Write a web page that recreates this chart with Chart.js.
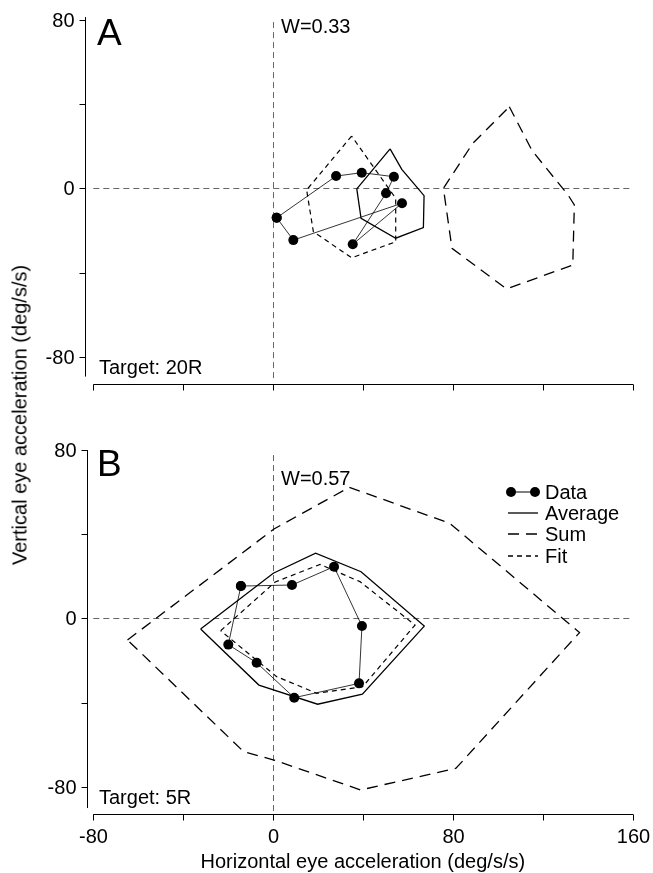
<!DOCTYPE html>
<html><head><meta charset="utf-8">
<script src="https://cdn.jsdelivr.net/npm/chart.js@4.4.0/dist/chart.umd.min.js"></script>
<style>
html,body{margin:0;padding:0;background:#fff;}
#wrap{position:relative;width:653px;height:873px;overflow:hidden;background:#fff;}
.pane{position:absolute;left:0;}
#ytitle{position:absolute;left:20px;top:415px;transform:translate(-50%,-50%) rotate(-90deg);font:20px 'Liberation Sans',Arial,sans-serif;white-space:nowrap;color:#000;}
</style></head>
<body><div id="wrap">
<div class="pane" style="top:0;width:653px;height:420px"><canvas id="cA" width="653" height="420"></canvas></div>
<div class="pane" style="top:420px;width:653px;height:453px"><canvas id="cB" width="653" height="453"></canvas></div>
<div id="ytitle">Vertical eye acceleration (deg/s/s)</div>
</div>
<script>
// ---- tick values / labels ----
const xTicks = [-80, -40, 0, 40, 80, 120, 160];
const xTickLabels = ['-80', '', '0', '', '80', '', '160'];
const yTicks = [80, 40, 0, -40, -80];
const yTickLabels = ['80', '', '0', '', '-80'];
const legendLabels = ['Data', 'Average', 'Sum', 'Fit'];

// ---- Panel A (Target: 20R, W=0.33) ----
const dataA_x = [1.5, 27.9, 39.3, 53.6, 50.1, 35.3, 57.2, 8.9];
const dataA_y = [-13.9, 5.9, 7.5, 5.6, -2.3, -26.5, -7.0, -24.5];
const avgA_x = [51.9, 57.1, 67.0, 66.7, 54.4, 39.0, 37.1];
const avgA_y = [18.8, 9.1, -3.4, -18.6, -23.6, -14.2, -0.2];
const sumA_x = [104.9, 115.0, 131.0, 133.8, 133.1, 103.7, 79.4, 75.6, 88.7];
const sumA_y = [38.8, 18.0, -3.1, -7.8, -36.3, -47.7, -28.4, 0.1, 21.5];
const fitA_x = [34.8, 14.8, 17.8, 34.8, 54.4, 54.4];
const fitA_y = [24.9, -0.7, -20.5, -32.9, -25.3, -4.7];

// ---- Panel B (Target: 5R, W=0.57) ----
const dataB_x = [-14.4, 8.3, 27.0, 39.4, 38.1, 9.3, -7.4, -20.0];
const dataB_y = [15.4, 15.9, 24.6, -3.6, -30.8, -37.6, -21.0, -12.4];
const avgB_x = [-32.3, 0.0, 18.8, 39.0, 67.1, 39.6, 19.7, -6.4];
const avgB_y = [-5.0, 21.5, 31.0, 22.2, -3.6, -35.9, -40.7, -31.6];
const sumB_x = [-64.8, 0.3, 33.8, 78.4, 136.1, 81.2, 38.8, 0.3, -13.2];
const sumB_y = [-10.2, 42.5, 62.3, 45.2, -6.7, -71.1, -81.4, -67.2, -63.2];
const fitB_x = [-23.4, 0.8, 20.8, 38.5, 63.0, 39.7, 19.3, 1.5];
const fitB_y = [-5.8, 17.3, 25.7, 17.5, -3.1, -32.4, -35.5, -27.6];

const FONT = "'Liberation Sans', Arial, Helvetica, sans-serif";
const SUM_DASH = [11, 7];
const FIT_DASH = [5, 4];

function pts(xs, ys, close) {
  const a = xs.map((v, i) => ({x: v, y: ys[i]}));
  if (close) a.push({x: xs[0], y: ys[0]});
  return a;
}

function makePlugin(cfg) {
  return {
    id: 'panelDeco',
    beforeDatasetsDraw(chart) {
      const ctx = chart.ctx, x = chart.scales.x, y = chart.scales.y;
      ctx.save();
      ctx.strokeStyle = '#666';
      ctx.lineWidth = 1;
      ctx.setLineDash([6, 4]);
      const y0 = Math.round(y.getPixelForValue(0)) + 0.5;
      ctx.beginPath();
      ctx.moveTo(x.getPixelForValue(-80), y0);
      ctx.lineTo(x.getPixelForValue(159), y0);
      ctx.stroke();
      const x0 = Math.round(x.getPixelForValue(0)) + 0.5;
      ctx.beginPath();
      ctx.moveTo(x0, y.getPixelForValue(cfg.vref[0]));
      ctx.lineTo(x0, y.getPixelForValue(cfg.vref[1]));
      ctx.stroke();
      ctx.restore();
    },
    afterDraw(chart) {
      const ctx = chart.ctx, x = chart.scales.x, y = chart.scales.y, ca = chart.chartArea;
      ctx.save();
      ctx.strokeStyle = '#000';
      ctx.fillStyle = '#000';
      ctx.lineWidth = 1;
      ctx.setLineDash([]);
      // y axis
      const ax = Math.round(ca.left) + 0.5;
      ctx.beginPath();
      ctx.moveTo(ax, y.getPixelForValue(cfg.yAxis[0]));
      ctx.lineTo(ax, y.getPixelForValue(cfg.yAxis[1]));
      ctx.stroke();
      ctx.font = '20px ' + FONT;
      ctx.textAlign = 'right';
      ctx.textBaseline = 'middle';
      yTicks.forEach((v, i) => {
        const py = Math.round(y.getPixelForValue(v)) + 0.5;
        ctx.beginPath(); ctx.moveTo(ax - 6, py); ctx.lineTo(ax, py); ctx.stroke();
        if (yTickLabels[i]) ctx.fillText(yTickLabels[i], ax - 11, py + 1);
      });
      // x axis
      const ay = Math.round(ca.bottom) + 0.5;
      ctx.beginPath();
      ctx.moveTo(x.getPixelForValue(-80), ay);
      ctx.lineTo(x.getPixelForValue(160), ay);
      ctx.stroke();
      ctx.textAlign = 'center';
      xTicks.forEach((v, i) => {
        const px = Math.round(x.getPixelForValue(v)) + 0.5;
        ctx.beginPath(); ctx.moveTo(px, ay); ctx.lineTo(px, ay + 6); ctx.stroke();
        if (cfg.xLabels && xTickLabels[i]) ctx.fillText(xTickLabels[i], px, ay + 23);
      });
      if (cfg.xTitle) {
        ctx.fillText(cfg.xTitle, (x.getPixelForValue(-80) + x.getPixelForValue(160)) / 2 - 0.5, ay + 48);
      }
      // texts
      ctx.textAlign = 'left';
      ctx.textBaseline = 'alphabetic';
      ctx.font = '37px ' + FONT;
      ctx.fillText(cfg.letter, 97, cfg.letterBase);
      ctx.font = '20px ' + FONT;
      ctx.fillText(cfg.wText, 281, cfg.wBase);
      ctx.fillText(cfg.target, 99, ay - 11);
      // legend
      if (cfg.legend) {
        const lx0 = 508, lx1 = 538, tx = 545;
        const rows = [72, 93, 114, 136];
        rows.forEach((ry, i) => {
          ctx.save();
          ctx.lineWidth = i === 0 ? 1 : 1.3;
          if (i === 2) ctx.setLineDash(SUM_DASH);
          if (i === 3) ctx.setLineDash(FIT_DASH);
          ctx.beginPath(); ctx.moveTo(lx0, ry); ctx.lineTo(lx1, ry); ctx.stroke();
          ctx.restore();
          if (i === 0) {
            [511, 535].forEach(cx => { ctx.beginPath(); ctx.arc(cx, ry, 5, 0, Math.PI * 2); ctx.fill(); });
          }
          ctx.textBaseline = 'middle';
          ctx.fillText(legendLabels[i], tx, ry + 1);
        });
      }
      ctx.restore();
    }
  };
}

function makePanel(id, cfg, series) {
  const canvas = document.getElementById(id);
  const W = canvas.width, H = canvas.height;
  const ds = [
    {label: 'Sum', data: pts(series.sx, series.sy, true), borderColor: '#000', borderWidth: 1.3, borderDash: SUM_DASH, pointRadius: 0, showLine: true, fill: false, tension: 0},
    {label: 'Fit', data: pts(series.fx, series.fy, true), borderColor: '#000', borderWidth: 1.2, borderDash: FIT_DASH, pointRadius: 0, showLine: true, fill: false, tension: 0},
    {label: 'Average', data: pts(series.ax, series.ay, true), borderColor: '#000', borderWidth: 1.3, pointRadius: 0, showLine: true, fill: false, tension: 0},
    {label: 'Data', data: pts(series.dx, series.dy, true), borderColor: '#000', borderWidth: 0.8, pointRadius: 5, pointBackgroundColor: '#000', pointBorderWidth: 0, showLine: true, fill: false, tension: 0}
  ];
  return new Chart(canvas, {
    type: 'scatter',
    data: {datasets: ds},
    options: {
      responsive: false,
      animation: false,
      devicePixelRatio: 1,
      layout: {padding: {left: cfg.area.left, right: W - cfg.area.right, top: cfg.area.top, bottom: H - cfg.area.bottom}},
      scales: {
        x: {type: 'linear', display: false, min: cfg.xr[0], max: cfg.xr[1]},
        y: {type: 'linear', display: false, min: cfg.yr[0], max: cfg.yr[1]}
      },
      plugins: {legend: {display: false}, tooltip: {enabled: false}, title: {display: false}},
      elements: {line: {borderCapStyle: 'butt'}}
    },
    plugins: [makePlugin(cfg)]
  });
}

makePanel('cA', {
  area: {left: 85, right: 633.3, top: 17, bottom: 384},
  xr: [-83.7, 160], yr: [-92.82, 81.42],
  yAxis: [81.4, -89.3], vref: [79, -90.5],
  letter: 'A', letterBase: 45, wText: 'W=0.33', wBase: 33, target: 'Target: 20R',
  xLabels: false, legend: false
}, {dx: dataA_x, dy: dataA_y, ax: avgA_x, ay: avgA_y, sx: sumA_x, sy: sumA_y, fx: fitA_x, fy: fitA_y});

makePanel('cB', {
  area: {left: 86.7, right: 633.3, top: 28, bottom: 394},
  xr: [-82.93, 160], yr: [-92.82, 80.95],
  yAxis: [80, -90], vref: [77.6, -91.5],
  letter: 'B', letterBase: 56, wText: 'W=0.57', wBase: 65, target: 'Target: 5R',
  xLabels: true, xTitle: 'Horizontal eye acceleration (deg/s/s)', legend: true
}, {dx: dataB_x, dy: dataB_y, ax: avgB_x, ay: avgB_y, sx: sumB_x, sy: sumB_y, fx: fitB_x, fy: fitB_y});
</script>
</body></html>
